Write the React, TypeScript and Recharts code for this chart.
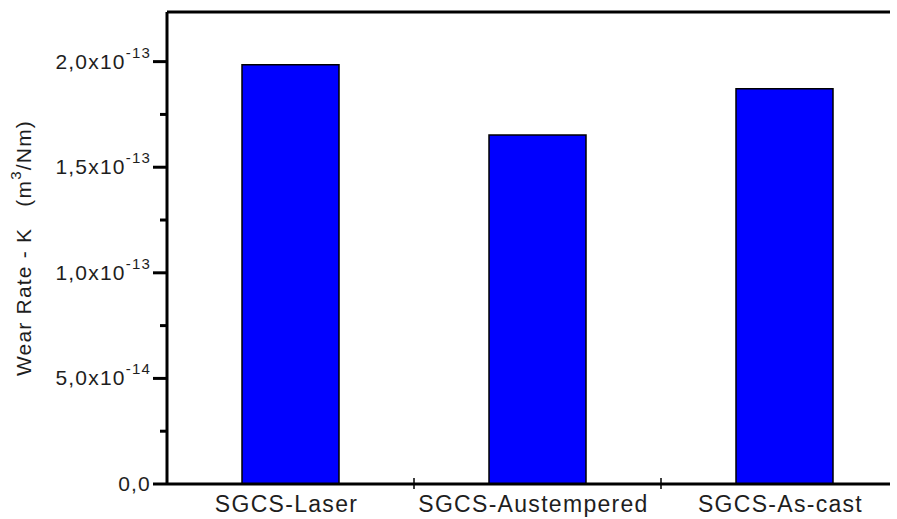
import { BarChart, Bar, XAxis, YAxis, ReferenceLine } from "recharts";

const categories = ["SGCS-Laser", "SGCS-Austempered", "SGCS-As-cast"];
const wearRates = [1.985e-13, 1.652e-13, 1.872e-13];
const yTicks = [
  0, 0.25e-13, 0.5e-13, 0.75e-13, 1.0e-13, 1.25e-13, 1.5e-13, 1.75e-13, 2.0e-13,
];
const yMax = 2.235e-13;

const data = categories.map((name, i) => ({ name, rate: wearRates[i] }));

const FONT = '"Liberation Sans", Arial, sans-serif';
const INK = "#1e1e1e";

const splitSci = (v: number) => {
  if (v === 0) return { mant: "0,0", exp: "" };
  const exp = Math.floor(Math.log10(v) + 1e-9);
  const mant = (v / Math.pow(10, exp)).toFixed(1).replace(".", ",");
  return { mant: mant + "x10", exp: String(exp) };
};

const YTick = (props: any) => {
  const { x, y, payload } = props;
  const v = payload.value as number;
  const major = Math.round(v / 0.25e-13) % 2 === 0;
  const { mant, exp } = splitSci(v);
  return (
    <g>
      <line
        x1={x - (major ? 14 : 7)}
        x2={x}
        y1={y}
        y2={y}
        stroke="#000"
        strokeWidth={3}
      />
      {major && (
        <text
          x={x - 16}
          y={y + 7}
          textAnchor="end"
          fill={INK}
          fontFamily={FONT}
          fontSize={21}
          letterSpacing={1.2}
        >
          <tspan>{mant}</tspan>
          {exp && (
            <tspan dy={-11} fontSize={15}>
              {exp}
            </tspan>
          )}
        </text>
      )}
    </g>
  );
};

const XTick = (props: any) => {
  const { x, y, payload, index } = props;
  const half = payload.offset ?? 0;
  return (
    <g>
      {half > 0 && index < categories.length - 1 && (
        <line
          x1={x + half}
          x2={x + half}
          y1={y - 6}
          y2={y + 5}
          stroke="#000"
          strokeWidth={1.5}
        />
      )}
      <text
        x={x - 4}
        y={y + 28}
        textAnchor="middle"
        fill={INK}
        fontFamily={FONT}
        fontSize={23}
        letterSpacing={1.3}
      >
        {payload.value}
      </text>
    </g>
  );
};

const YTitle = (props: any) => {
  const vb = props.viewBox || { x: 0, y: 12, width: 167, height: 472 };
  const cx = 23;
  const cy = vb.y + vb.height / 2;
  return (
    <text
      x={cx}
      y={cy}
      transform={`rotate(-90 ${cx} ${cy})`}
      textAnchor="middle"
      dominantBaseline="central"
      fill={INK}
      fontFamily={FONT}
      fontSize={21}
      letterSpacing={1.2}
      style={{ whiteSpace: "pre" }}
    >
      <tspan>{"Wear Rate - K   (m"}</tspan>
      <tspan dy={-8} fontSize={15}>
        3
      </tspan>
      <tspan dy={8}>{"/Nm)"}</tspan>
    </text>
  );
};

export default function App() {
  return (
    <div
      style={{
        position: "absolute",
        left: 0,
        top: 0,
        width: 890,
        height: 519,
        overflow: "hidden",
        background: "#fff",
      }}
    >
      <BarChart
        width={920}
        height={519}
        data={data}
        margin={{ top: 12, right: 12, bottom: 0, left: 0 }}
        accessibilityLayer={false}
      >
        <XAxis
          dataKey="name"
          height={35}
          tickSize={0}
          tickMargin={0}
          tickLine={false}
          axisLine={{ stroke: "#000", strokeWidth: 3 }}
          tick={<XTick />}
          interval={0}
        />
        <YAxis
          width={167}
          domain={[0, yMax]}
          ticks={yTicks}
          interval={0}
          tickSize={0}
          tickMargin={0}
          tickLine={false}
          axisLine={{ stroke: "#000", strokeWidth: 3 }}
          tick={<YTick />}
          label={{ content: <YTitle /> }}
        />
        <ReferenceLine y={yMax} stroke="#000" strokeWidth={3} />
        <Bar
          dataKey="rate"
          fill="#0000ff"
          stroke="#000"
          strokeWidth={1.5}
          barSize={97}
          isAnimationActive={false}
        />
      </BarChart>
    </div>
  );
}
